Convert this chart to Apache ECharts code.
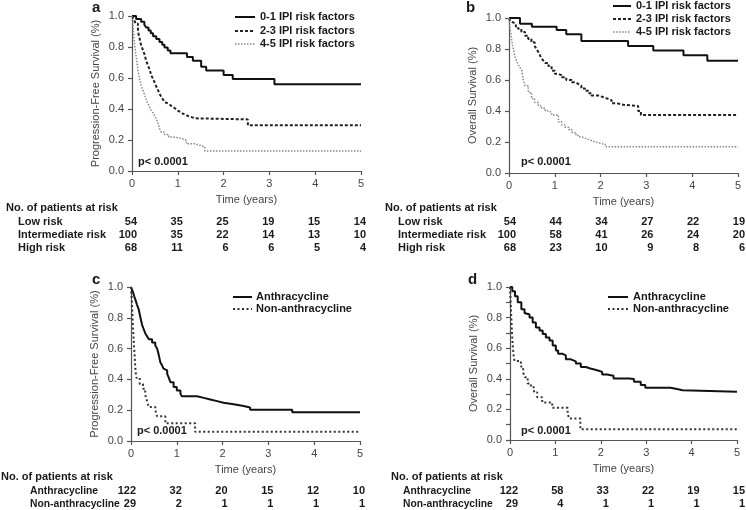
<!DOCTYPE html>
<html><head><meta charset="utf-8">
<script src="https://cdn.jsdelivr.net/npm/echarts@6/dist/echarts.min.js"></script>
<style>html,body{margin:0;padding:0;background:#fff}#c{width:746px;height:510px}</style>
</head><body><div id="c"></div>
<script>
// ---------- data ----------
const xTickValues = [0, 1, 2, 3, 4, 5];

// Panel a: Progression-free survival by IPI
const aLowT  = [0, 0.09, 0.2, 0.27, 0.31, 0.36, 0.41, 0.46, 0.53, 0.6, 0.66, 0.71, 0.78, 0.84, 1.2, 1.33, 1.51, 1.62, 2.0, 2.2, 3.11, 5];
const aLowS  = [1.0, 0.981, 0.963, 0.944, 0.926, 0.907, 0.889, 0.87, 0.852, 0.833, 0.815, 0.796, 0.778, 0.759, 0.735, 0.711, 0.672, 0.648, 0.62, 0.593, 0.56, 0.56];
const aIntT  = [0, 0.04, 0.08, 0.13, 0.17, 0.2, 0.24, 0.28, 0.31, 0.35, 0.39, 0.42, 0.46, 0.49, 0.53, 0.57, 0.6, 0.64, 0.68, 0.71, 0.75, 0.79, 0.84, 0.9, 0.95, 1.0, 1.06, 1.11, 1.17, 1.22, 1.3, 1.37, 2.53, 5];
const aIntS  = [1.0, 0.98, 0.95, 0.9, 0.85, 0.81, 0.78, 0.746, 0.71, 0.68, 0.65, 0.617, 0.595, 0.574, 0.545, 0.52, 0.5, 0.477, 0.46, 0.445, 0.435, 0.424, 0.413, 0.402, 0.39, 0.38, 0.37, 0.363, 0.355, 0.348, 0.34, 0.333, 0.295, 0.295];
const aHighT = [0, 0.02, 0.04, 0.06, 0.08, 0.1, 0.13, 0.16, 0.2, 0.24, 0.28, 0.31, 0.35, 0.39, 0.42, 0.46, 0.49, 0.53, 0.57, 0.6, 0.64, 0.71, 0.8, 0.9, 1.08, 1.19, 1.37, 1.48, 1.59, 5];
const aHighS = [1.0, 0.94, 0.87, 0.81, 0.76, 0.72, 0.65, 0.6, 0.553, 0.52, 0.488, 0.46, 0.434, 0.41, 0.39, 0.375, 0.36, 0.335, 0.305, 0.273, 0.25, 0.235, 0.22, 0.21, 0.198, 0.176, 0.166, 0.155, 0.129, 0.129];

// Panel b: Overall survival by IPI
const bLowT  = [0, 0.24, 0.5, 1.04, 1.25, 1.58, 2.6, 3.15, 3.81, 4.33, 5];
const bLowS  = [1.0, 0.963, 0.944, 0.922, 0.895, 0.852, 0.82, 0.79, 0.76, 0.725, 0.725];
const bIntT  = [0, 0.03, 0.06, 0.1, 0.15, 0.2, 0.27, 0.35, 0.42, 0.49, 0.56, 0.6, 0.64, 0.68, 0.71, 0.75, 0.79, 0.86, 0.93, 1.0, 1.08, 1.15, 1.25, 1.37, 1.45, 1.51, 1.58, 1.66, 1.73, 1.8, 1.95, 2.05, 2.15, 2.24, 2.35, 2.5, 2.82, 2.88, 5];
const bIntS  = [1.0, 0.98, 0.97, 0.96, 0.945, 0.93, 0.91, 0.886, 0.865, 0.843, 0.82, 0.8, 0.78, 0.757, 0.74, 0.725, 0.71, 0.69, 0.66, 0.64, 0.63, 0.617, 0.6, 0.585, 0.575, 0.563, 0.545, 0.53, 0.515, 0.5, 0.49, 0.48, 0.47, 0.45, 0.44, 0.432, 0.4, 0.375, 0.375];
const bHighT = [0, 0.02, 0.04, 0.06, 0.08, 0.1, 0.13, 0.17, 0.2, 0.24, 0.28, 0.31, 0.35, 0.42, 0.49, 0.56, 0.64, 0.71, 0.79, 0.86, 0.93, 1.08, 1.15, 1.22, 1.3, 1.37, 1.44, 1.51, 1.58, 1.66, 1.75, 1.84, 1.95, 2.1, 5];
const bHighS = [1.0, 0.94, 0.9, 0.854, 0.82, 0.79, 0.75, 0.72, 0.7, 0.68, 0.66, 0.6, 0.563, 0.52, 0.48, 0.455, 0.434, 0.418, 0.402, 0.39, 0.375, 0.33, 0.31, 0.295, 0.28, 0.262, 0.248, 0.234, 0.225, 0.215, 0.205, 0.195, 0.185, 0.17, 0.17];

// Panel c: Progression-free survival by regimen
const cAnthT = [0, 0.04, 0.07, 0.095, 0.13, 0.17, 0.2, 0.24, 0.28, 0.31, 0.35, 0.39, 0.46, 0.53, 0.57, 0.6, 0.64, 0.68, 0.71, 0.75, 0.79, 0.82, 0.86, 0.93, 1.0, 1.08, 1.11, 1.44, 1.59, 1.73, 1.88, 2.02, 2.24, 2.46, 2.6, 3.52, 5];
const cAnthS = [1.0, 0.97, 0.94, 0.918, 0.886, 0.853, 0.81, 0.756, 0.724, 0.7, 0.68, 0.66, 0.64, 0.62, 0.6, 0.566, 0.512, 0.49, 0.47, 0.458, 0.436, 0.415, 0.382, 0.35, 0.328, 0.307, 0.29, 0.28, 0.27, 0.259, 0.248, 0.238, 0.227, 0.218, 0.203, 0.186, 0.186];
const cNonT  = [0, 0.02, 0.04, 0.06, 0.08, 0.1, 0.12, 0.19, 0.26, 0.31, 0.35, 0.39, 0.53, 0.57, 0.75, 1.4, 5];
const cNonS  = [1.0, 0.9, 0.76, 0.65, 0.55, 0.45, 0.41, 0.37, 0.34, 0.3, 0.26, 0.22, 0.2, 0.16, 0.115, 0.06, 0.06];

// Panel d: Overall survival by regimen
const dAnthT = [0, 0.05, 0.11, 0.17, 0.25, 0.32, 0.36, 0.43, 0.5, 0.57, 0.65, 0.72, 0.79, 0.87, 0.94, 1.01, 1.06, 1.16, 1.23, 1.34, 1.45, 1.56, 1.67, 1.77, 1.92, 2.03, 2.14, 2.28, 2.62, 2.73, 2.88, 2.98, 3.53, 3.68, 3.8, 5];
const dAnthS = [1.0, 0.972, 0.94, 0.9, 0.854, 0.83, 0.82, 0.8, 0.768, 0.735, 0.715, 0.693, 0.67, 0.65, 0.617, 0.585, 0.563, 0.553, 0.527, 0.514, 0.5, 0.477, 0.467, 0.456, 0.445, 0.428, 0.42, 0.402, 0.398, 0.38, 0.36, 0.342, 0.333, 0.325, 0.316, 0.316];
const dNonT  = [0, 0.02, 0.04, 0.06, 0.08, 0.1, 0.24, 0.29, 0.33, 0.39, 0.46, 0.53, 0.6, 0.71, 0.93, 1.27, 1.3, 1.55, 5];
const dNonS  = [1.0, 0.86, 0.72, 0.62, 0.55, 0.517, 0.48, 0.44, 0.41, 0.37, 0.345, 0.31, 0.28, 0.245, 0.21, 0.175, 0.14, 0.07, 0.07];

// Legend / risk-table text
const ipiNames = ['0-1 IPI risk factors', '2-3 IPI risk factors', '4-5 IPI risk factors'];
const regimenNames = ['Anthracycline', 'Non-anthracycline'];
const riskHeader = 'No. of patients at risk';
const ipiRiskLabels = ['Low risk', 'Intermediate risk', 'High risk'];
const aRiskLow  = [54, 35, 25, 19, 15, 14];
const aRiskInt  = [100, 35, 22, 14, 13, 10];
const aRiskHigh = [68, 11, 6, 6, 5, 4];
const bRiskLow  = [54, 44, 34, 27, 22, 19];
const bRiskInt  = [100, 58, 41, 26, 24, 20];
const bRiskHigh = [68, 23, 10, 9, 8, 6];
const cRiskAnth = [122, 32, 20, 15, 12, 10];
const cRiskNon  = [29, 2, 1, 1, 1, 1];
const dRiskAnth = [122, 58, 33, 22, 19, 15];
const dRiskNon  = [29, 4, 1, 1, 1, 1];
const pText = 'p< 0.0001';
const panelLetters = ['a', 'b', 'c', 'd'];

// ---------- chart ----------
const FF = '"Liberation Sans", Arial, Helvetica, sans-serif';
const AX = '#555', LB = '#444', TX = '#1a1a1a';
const chart = echarts.init(document.getElementById('c'), null, {renderer: 'canvas'});

const grids = [
  {left: 132, top: 16, width: 229, height: 155},
  {left: 509, top: 18, width: 229, height: 155},
  {left: 131, top: 287, width: 229, height: 154},
  {left: 510, top: 287, width: 227, height: 153}
];
function xa(gi) {
  return {type: 'value', gridIndex: gi, min: 0, max: 5, interval: 1,
    name: 'Time (years)', nameLocation: 'middle', nameGap: 23,
    nameTextStyle: {fontSize: 11, color: LB, fontFamily: FF},
    axisLine: {lineStyle: {color: AX, width: 1.2}},
    axisTick: {show: true, length: 4, lineStyle: {color: AX, width: 1.2}},
    axisLabel: {fontSize: 11, color: LB, fontFamily: FF, margin: 7},
    splitLine: {show: false}};
}
function ya(gi, name, minor) {
  return {type: 'value', gridIndex: gi, min: 0, max: 1, interval: 0.2,
    name: name, nameLocation: 'middle', nameGap: 31,
    nameTextStyle: {fontSize: 11, color: LB, fontFamily: FF},
    axisLine: {show: true, lineStyle: {color: AX, width: 1.2}},
    axisTick: {show: true, length: 4, lineStyle: {color: AX, width: 1.2}},
    minorTick: {show: !!minor, splitNumber: 2, length: 4, lineStyle: {color: AX, width: 1.2}},
    axisLabel: {fontSize: 11, color: LB, fontFamily: FF, margin: 8, formatter: v => v.toFixed(1)},
    splitLine: {show: false}};
}
const solid  = {color: '#111', width: 2, type: 'solid'};
const dashed = {color: '#222', width: 2, type: [3, 2]};
const dotted = {color: '#888', width: 1.5, type: [1.5, 1.5]};
const dotsBlk = {color: '#333', width: 2, type: [2, 2.5]};
function km(name, xi, T, S, ls) {
  return {type: 'line', name: name, xAxisIndex: xi, yAxisIndex: xi, step: 'end',
    symbol: 'none', lineStyle: ls, silent: true,
    data: T.map((t, i) => [t, S[i]])};
}

chart.setOption({
  animation: false,
  grid: grids,
  xAxis: [xa(0), xa(1), xa(2), xa(3)],
  yAxis: [ya(0, 'Progression-Free Survival (%)'), ya(1, 'Overall Survival (%)'),
          ya(2, 'Progression-Free Survival (%)'), ya(3, 'Overall Survival (%)', true)],
  series: [
    km(ipiNames[0], 0, aLowT, aLowS, solid),
    km(ipiNames[1], 0, aIntT, aIntS, dashed),
    km(ipiNames[2], 0, aHighT, aHighS, dotted),
    km(ipiNames[0], 1, bLowT, bLowS, solid),
    km(ipiNames[1], 1, bIntT, bIntS, dashed),
    km(ipiNames[2], 1, bHighT, bHighS, dotted),
    km(regimenNames[0], 2, cAnthT, cAnthS, solid),
    km(regimenNames[1], 2, cNonT, cNonS, dotsBlk),
    km(regimenNames[0], 3, dAnthT, dAnthS, solid),
    km(regimenNames[1], 3, dNonT, dNonS, dotsBlk)
  ]
});

// ---------- annotations (legends, p-values, risk tables) ----------
const g = [];
function txt(x, y, s, opt) {
  opt = opt || {};
  g.push({type: 'text', x: x, y: y, silent: true, style: {
    text: String(s), fontFamily: FF, fontSize: opt.size || 11, fontWeight: opt.weight || 'bold',
    fill: opt.color || TX, align: opt.align || 'left', verticalAlign: 'middle'}});
}
function seg(x1, x2, y, ls) {
  g.push({type: 'line', silent: true, shape: {x1: x1, y1: y, x2: x2, y2: y},
    style: {stroke: ls.color, lineWidth: ls.width, lineDash: ls.type === 'solid' ? null : ls.type}});
}
// panel letters
txt(92, 8, panelLetters[0], {size: 15});
txt(466, 8, panelLetters[1], {size: 15});
txt(92, 280, panelLetters[2], {size: 15});
txt(468, 280, panelLetters[3], {size: 15});
// legends
const ipiStyles = [solid, dashed, dotted];
[17, 31, 44].forEach((y, i) => { seg(235, 255, y, ipiStyles[i]); txt(260, y, ipiNames[i]); });
[6, 19, 32].forEach((y, i) => { seg(613, 631, y, ipiStyles[i]); txt(636, y, ipiNames[i]); });
const regStyles = [solid, dotsBlk];
[297, 309].forEach((y, i) => { seg(233, 252, y, regStyles[i]); txt(256, y, regimenNames[i]); });
[297, 309].forEach((y, i) => { seg(608, 628, y, regStyles[i]); txt(633, y, regimenNames[i]); });
// p-values
txt(138, 162, pText); txt(521, 162, pText); txt(137, 431, pText); txt(521, 431, pText);
// risk tables
function riskTable(xi, hx, lx, off, ys, labels, rows, labelSize) {
  txt(hx, ys[0], riskHeader);
  rows.forEach((row, r) => {
    txt(lx, ys[r + 1], labels[r], {size: labelSize || 11});
    row.forEach((v, k) => {
      const px = chart.convertToPixel({xAxisIndex: xi}, xTickValues[k]);
      txt(px + off, ys[r + 1], v, {align: 'right'});
    });
  });
}
riskTable(0, 6, 18, 5, [208, 222, 235, 248], ipiRiskLabels, [aRiskLow, aRiskInt, aRiskHigh]);
riskTable(1, 385, 398, 7, [208, 222, 235, 248], ipiRiskLabels, [bRiskLow, bRiskInt, bRiskHigh]);
riskTable(2, 1, 30, 5, [477, 491, 504], regimenNames, [cRiskAnth, cRiskNon], 10.3);
riskTable(3, 391, 403, 8, [477, 491, 504], regimenNames, [dRiskAnth, dRiskNon], 10.3);
chart.setOption({graphic: g});
</script></body></html>
